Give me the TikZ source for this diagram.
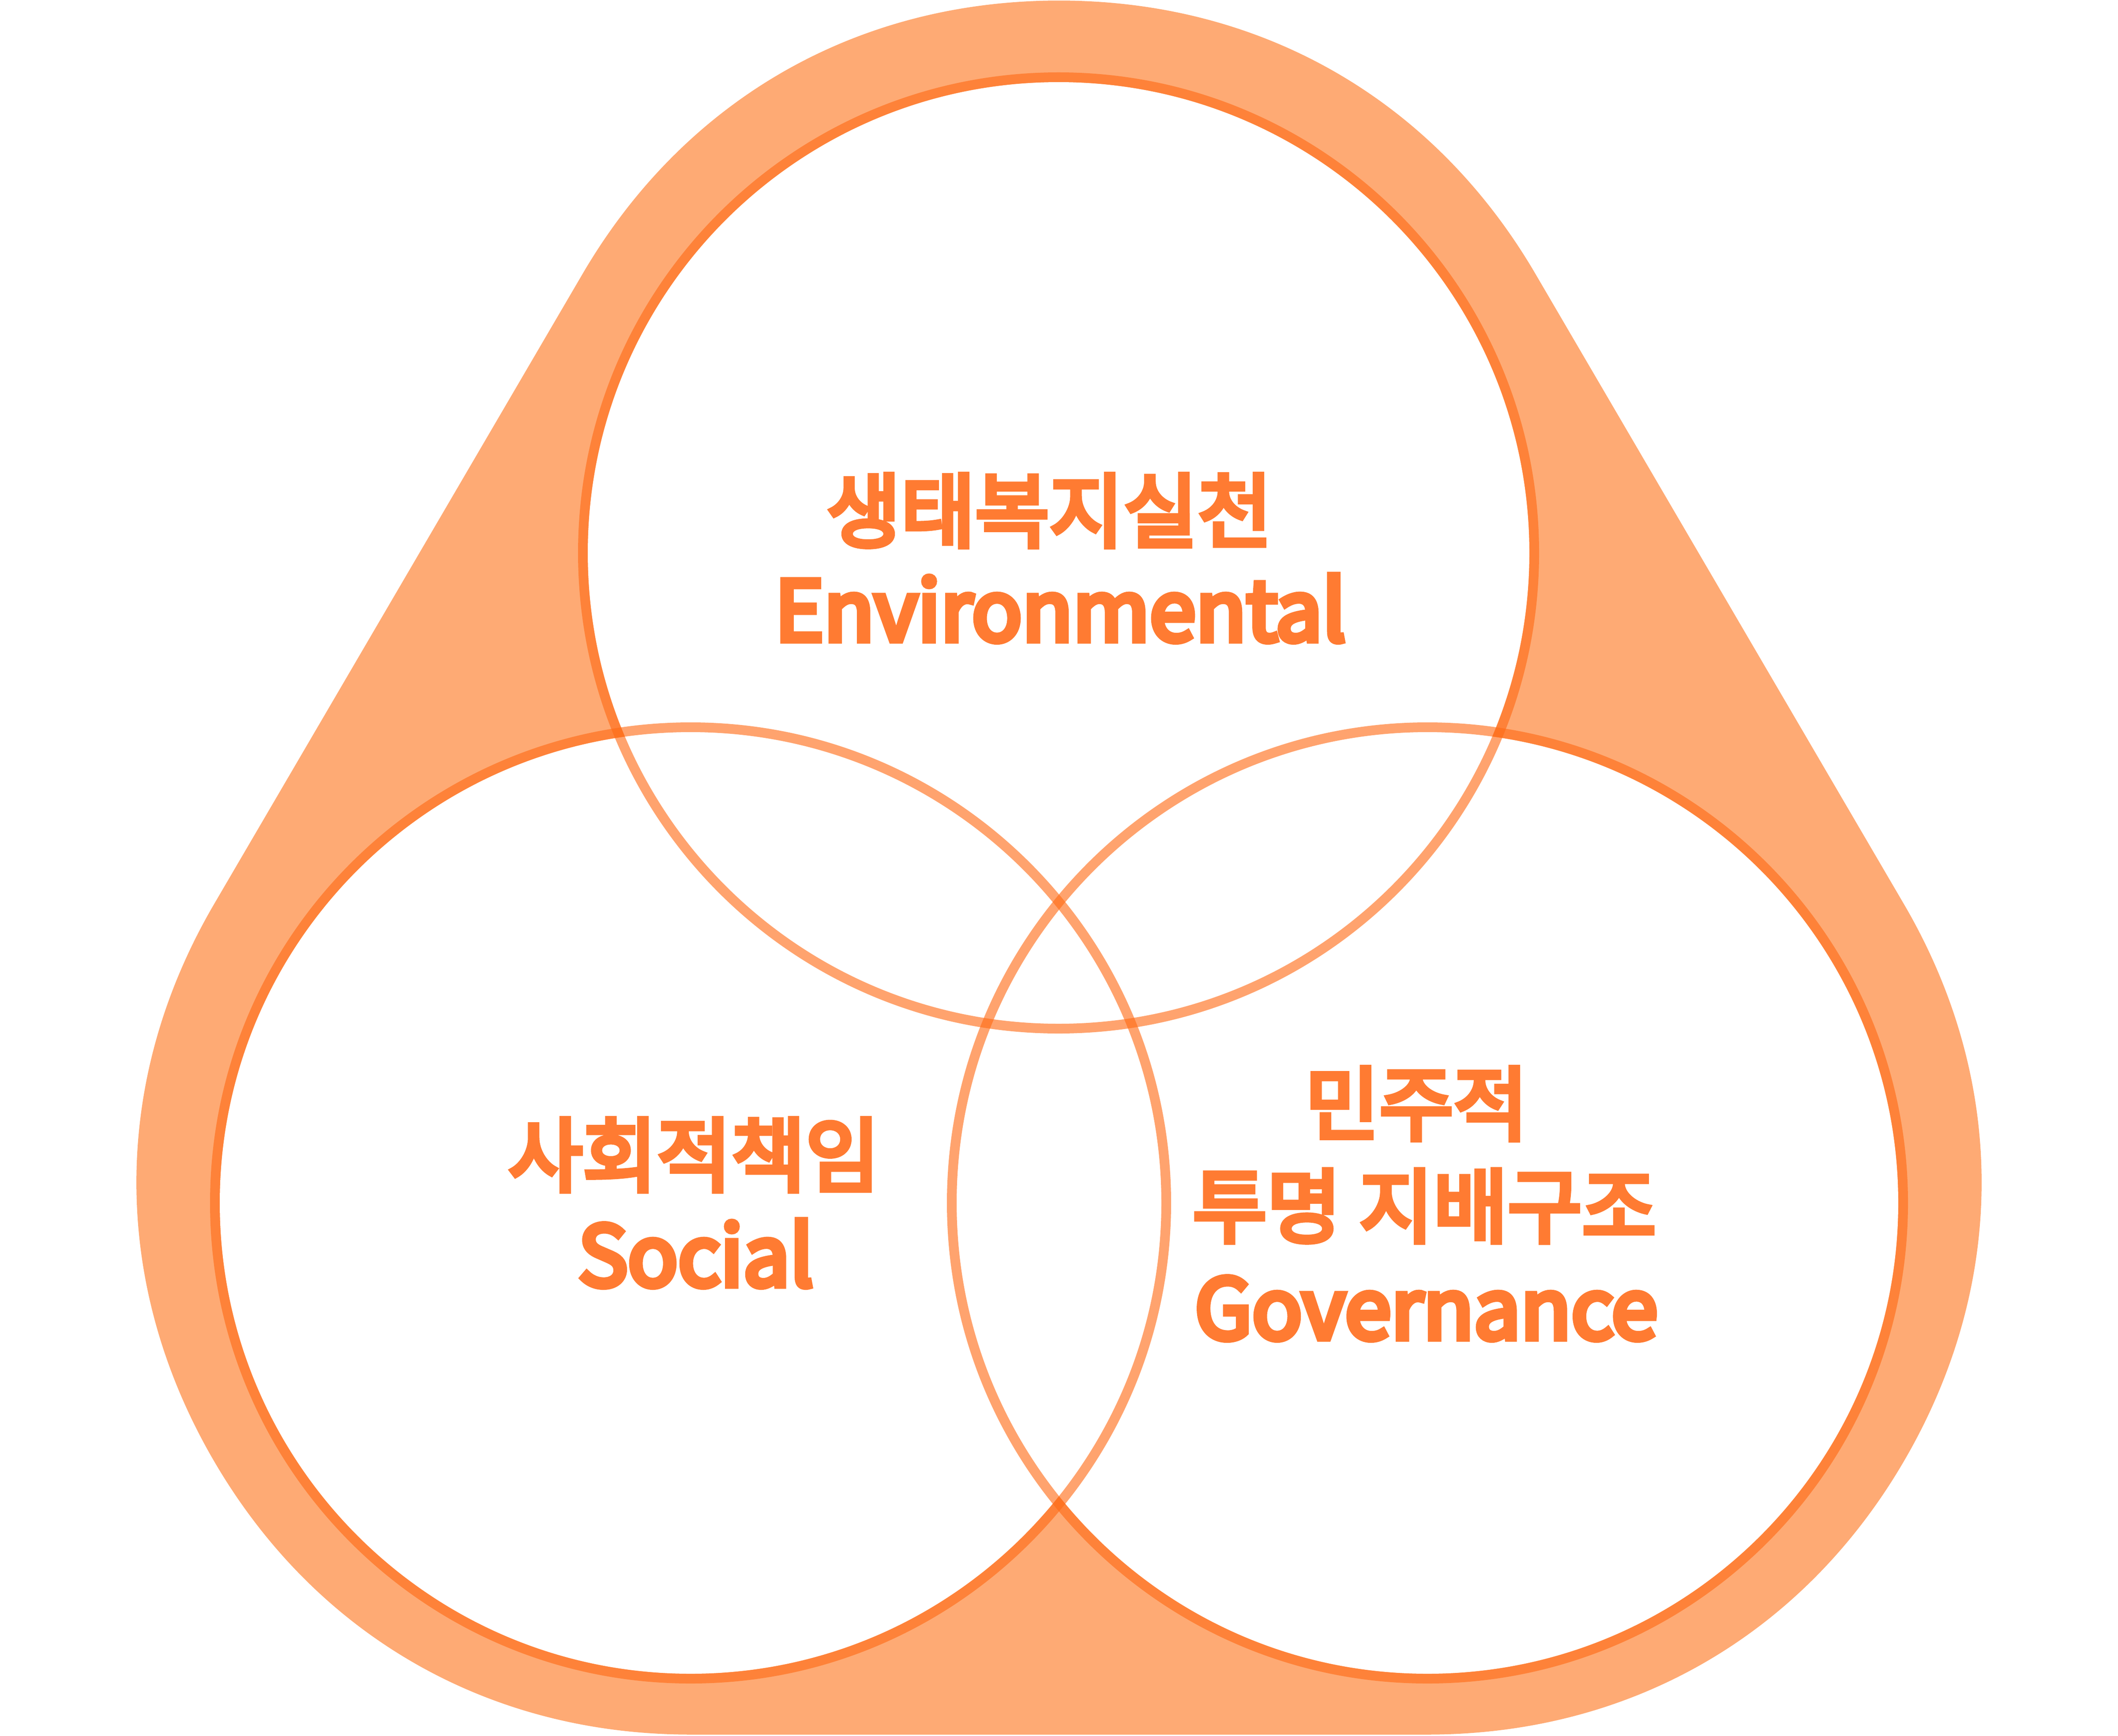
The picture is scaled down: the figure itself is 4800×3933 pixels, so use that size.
\documentclass[tikz,border=0pt]{standalone}
\usepackage{fontspec}
\setmainfont{Noto Sans CJK KR}
\newfontfamily\krfont{Noto Sans CJK KR}[FakeBold=6]
\newfontfamily\enfont{Noto Sans CJK KR}[FakeBold=7]
\definecolor{hullcol}{RGB}{254,170,116}
\definecolor{ringcol}{RGB}{255,107,21}
\definecolor{txtcol}{RGB}{255,123,50}
\begin{document}
\begin{tikzpicture}[x=0.01cm,y=-0.01cm,
  ring/.style={draw=ringcol,draw opacity=0.62,line width=0.22cm},
  disc/.style={fill=white},
  hull/.style={fill=hullcol,draw=hullcol,line width=25cm,line join=round},
  kr/.style={text=txtcol,inner sep=0pt,font=\krfont\fontsize{52}{60}\selectfont},
  en/.style={text=txtcol,inner sep=0pt,anchor=base,font=\enfont\fontsize{53.5}{62}\selectfont}]
\useasboundingbox (0,0) rectangle (4800,3933);
\clip (0,0) rectangle (4800,3933);
% outer rounded triangle
\coordinate (hT) at (2400,1252);
\coordinate (hL) at (1565,2680);
\coordinate (hR) at (3235,2680);
\filldraw[hull] (hT) -- (hL) -- (hR) -- cycle;
% circle centres
\coordinate (cT) at (2399,1253);
\coordinate (cL) at (1565,2726);
\coordinate (cR) at (3235,2726);
% white discs
\fill[disc] (cT) circle[radius=1067];
\fill[disc] (cL) circle[radius=1067];
\fill[disc] (cR) circle[radius=1067];
% rings
\draw[ring] (cT) circle[radius=1078];
\draw[ring] (cL) circle[radius=1078];
\draw[ring] (cR) circle[radius=1078];
% labels
\node[kr] (envkr) at (2378,1157) {생태복지실천};
\node[en] (enven) at (2403,1452) {Environmental};
\node[kr] (sockr) at (1573,2617) {사회적책임};
\node[en] (socen) at (1577,2914) {Social};
\node[kr] (govkra) at (3210,2501) {민주적};
\node[kr] (govkrb) at (3228,2733) {투명 지배구조};
\node[en] (goven) at (3232,3034) {Governance};
\end{tikzpicture}
\end{document}
